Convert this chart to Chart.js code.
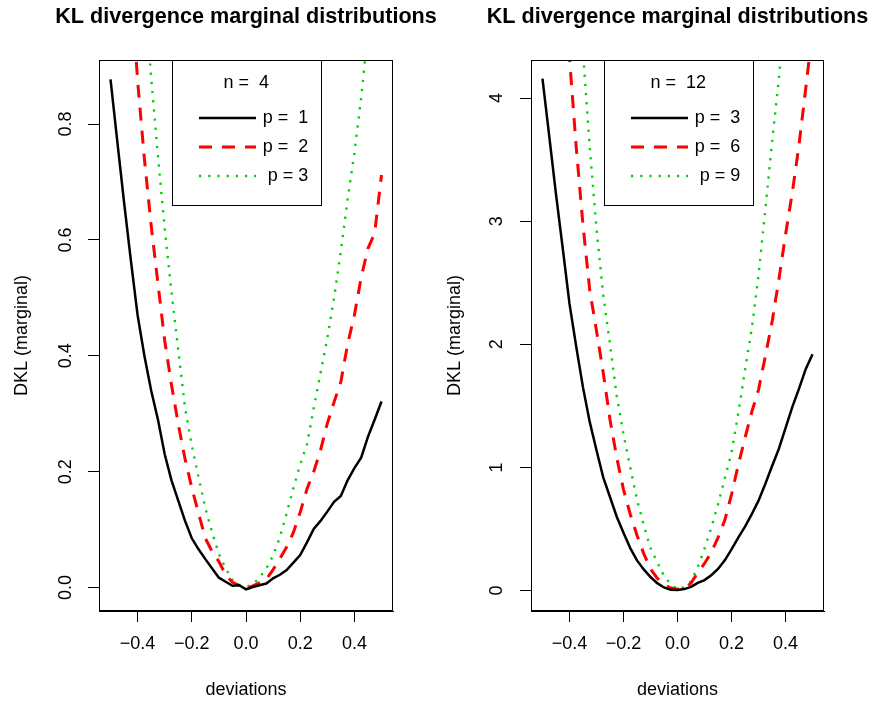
<!DOCTYPE html>
<html>
<head>
<meta charset="utf-8">
<title>KL divergence marginal distributions</title>
<script src="https://cdn.jsdelivr.net/npm/chart.js@4/dist/chart.umd.min.js"></script>
<style>
  html, body { margin: 0; padding: 0; background: #fff; }
  #wrap { position: relative; width: 872px; height: 705px; }
  canvas { position: absolute; top: 0; }
</style>
</head>
<body>
<div id="wrap">
  <canvas id="left" width="436" height="705" style="left:0"></canvas>
  <canvas id="right" width="436" height="705" style="left:436px"></canvas>
</div>
<script>
// deviations (x) shared by every curve
const deviations = [-0.5, -0.475, -0.45, -0.425, -0.4, -0.375, -0.35, -0.325, -0.3, -0.275,
  -0.25, -0.225, -0.2, -0.175, -0.15, -0.125, -0.1, -0.075, -0.05, -0.025,
  0, 0.025, 0.05, 0.075, 0.1, 0.125, 0.15, 0.175, 0.2, 0.225,
  0.25, 0.275, 0.3, 0.325, 0.35, 0.375, 0.4, 0.425, 0.45, 0.475, 0.5];

// left panel, n = 4
const n4p1 = [0.877, 0.77, 0.665, 0.565, 0.47, 0.40, 0.34, 0.29, 0.23, 0.185,
  0.15, 0.115, 0.085, 0.066, 0.049, 0.033, 0.017, 0.010, 0.003, 0.004,
  -0.003, 0.001, 0.004, 0.007, 0.016, 0.022, 0.030, 0.043, 0.056, 0.078,
  0.101, 0.115, 0.131, 0.148, 0.158, 0.185, 0.206, 0.224, 0.260, 0.290, 0.321];
const n4p2 = [1.7, 1.48, 1.25, 1.05, 0.875, 0.74, 0.625, 0.525, 0.426, 0.35,
  0.282, 0.222, 0.172, 0.128, 0.085, 0.062, 0.045, 0.022, 0.009, 0.004,
  -0.003, 0.003, 0.008, 0.014, 0.031, 0.050, 0.070, 0.095, 0.130, 0.170,
  0.200, 0.237, 0.283, 0.320, 0.355, 0.420, 0.470, 0.535, 0.585, 0.612, 0.712];
const n4p3 = [2.3, 2.0, 1.7, 1.45, 1.22, 1.04, 0.88, 0.745, 0.62, 0.51,
  0.41, 0.31, 0.245, 0.19, 0.137, 0.095, 0.058, 0.033, 0.013, 0.004,
  0.001, 0.005, 0.017, 0.033, 0.055, 0.087, 0.128, 0.172, 0.212, 0.247,
  0.31, 0.37, 0.43, 0.50, 0.58, 0.67, 0.75, 0.845, 0.96, 1.08, 1.2];

// right panel, n = 12
const n12p3 = [4.158, 3.69, 3.22, 2.78, 2.33, 1.98, 1.65, 1.37, 1.14, 0.92,
  0.76, 0.60, 0.47, 0.345, 0.245, 0.172, 0.11, 0.06, 0.025, 0.006,
  0.004, 0.012, 0.03, 0.062, 0.085, 0.125, 0.175, 0.245, 0.335, 0.43,
  0.52, 0.62, 0.73, 0.865, 1.01, 1.15, 1.32, 1.49, 1.64, 1.80, 1.92];
const n12p6 = [8.5, 7.3, 6.2, 5.25, 4.33, 3.60, 2.97, 2.44, 2.11, 1.77,
  1.39, 1.08, 0.82, 0.62, 0.45, 0.30, 0.175, 0.10, 0.05, 0.02,
  0.01, 0.018, 0.06, 0.145, 0.22, 0.31, 0.43, 0.57, 0.78, 1.02,
  1.24, 1.45, 1.63, 1.90, 2.18, 2.52, 2.89, 3.23, 3.62, 4.08, 4.55];
const n12p9 = [13, 11.2, 9.6, 8.1, 6.8, 5.6, 4.38, 3.60, 2.94, 2.40,
  2.00, 1.58, 1.27, 1.00, 0.74, 0.53, 0.345, 0.23, 0.12, 0.05,
  0.01, 0.03, 0.075, 0.19, 0.34, 0.51, 0.70, 0.91, 1.12, 1.44,
  1.79, 2.13, 2.56, 3.09, 3.64, 4.15, 4.75, 5.4, 6.1, 6.9, 7.7];

const leftLabels = ['p =  1', 'p =  2', ' p = 3'];
const rightLabels = ['p =  3', 'p =  6', ' p = 9'];

const xTicks = [-0.4, -0.2, 0, 0.2, 0.4];
const xTickLabels = ['\u22120.4', '\u22120.2', '0.0', '0.2', '0.4'];
const leftYTicks = [0, 0.2, 0.4, 0.6, 0.8];
const leftYTickLabels = ['0.0', '0.2', '0.4', '0.6', '0.8'];
const rightYTicks = [0, 1, 2, 3, 4];
const rightYTickLabels = ['0', '1', '2', '3', '4'];

const FONT = "'Liberation Sans', Arial, Helvetica, sans-serif";

const lineStyles = [
  { color: '#000000', width: 2.5, dash: [] },
  { color: '#ff0000', width: 3, dash: [13, 10] },
  { color: '#00cd00', width: 2.4, dash: [2.2, 7] }
];

// R-like frame: box, rotated y labels, titles and the legend box
const rFrame = {
  id: 'rFrame',
  afterDraw(chart, args, o) {
    const { ctx, chartArea: a } = chart;
    const yScale = chart.scales.y;
    const cx = (a.left + a.right) / 2;
    ctx.save();
    ctx.strokeStyle = '#000';
    ctx.lineWidth = 1;
    ctx.strokeRect(a.left + 0.5, a.top + 0.5, a.right - a.left - 1, a.bottom - a.top - 1);

    ctx.fillStyle = '#000';
    ctx.font = `18px ${FONT}`;
    ctx.textAlign = 'center';
    ctx.textBaseline = 'middle';
    o.yTicks.forEach((v, i) => {
      ctx.save();
      ctx.translate(o.yLabelX, yScale.getPixelForValue(v));
      ctx.rotate(-Math.PI / 2);
      ctx.fillText(o.yTickLabels[i], 0, 0);
      ctx.restore();
    });

    ctx.fillText('deviations', cx, 690);
    ctx.save();
    ctx.translate(o.yTitleX, (a.top + a.bottom) / 2);
    ctx.rotate(-Math.PI / 2);
    ctx.fillText('DKL (marginal)', 0, 0);
    ctx.restore();

    // legend
    const lx0 = a.left + 72.7, lx1 = a.left + 221.7;
    ctx.strokeRect(Math.round(lx0) + 0.5, a.top + 0.5, Math.round(lx1 - lx0), 145);
    ctx.fillText(o.header, (lx0 + lx1) / 2, 83);
    const rows = [118, 147, 176];
    chart.data.datasets.forEach((ds, i) => {
      ctx.save();
      ctx.strokeStyle = ds.borderColor;
      ctx.lineWidth = ds.borderWidth;
      ctx.setLineDash(ds.borderDash);
      ctx.beginPath();
      ctx.moveTo(a.left + 100, rows[i]);
      ctx.lineTo(a.left + 157, rows[i]);
      ctx.stroke();
      ctx.restore();
      ctx.textAlign = 'left';
      ctx.fillText(ds.label, a.left + 163.7, rows[i]);
    });

    ctx.textAlign = 'center';
    ctx.font = `bold 21.6px ${FONT}`;
    ctx.fillText('KL divergence marginal distributions', cx, 17);
    ctx.restore();
  }
};

function makePanel(id, p) {
  const axisGrid = { drawOnChartArea: false, drawTicks: true, tickLength: 11, color: '#000', lineWidth: 1 };
  return new Chart(document.getElementById(id), {
    type: 'line',
    data: {
      datasets: p.series.map((s, i) => ({
        label: p.labels[i],
        data: deviations.map((x, j) => ({ x: x, y: s[j] })),
        borderColor: lineStyles[i].color,
        borderWidth: lineStyles[i].width,
        borderDash: lineStyles[i].dash,
        pointRadius: 0,
        tension: 0,
        fill: false,
        clip: 0
      }))
    },
    options: {
      responsive: false,
      animation: false,
      events: [],
      layout: { padding: { top: 60, right: p.padRight, left: 0, bottom: 0 } },
      plugins: {
        legend: { display: false },
        tooltip: { enabled: false },
        title: { display: false },
        rFrame: {
          header: p.header,
          yTicks: p.yTicks,
          yTickLabels: p.yTickLabels,
          yLabelX: p.yLabelX,
          yTitleX: p.yTitleX
        }
      },
      scales: {
        x: {
          type: 'linear',
          min: -0.5425,
          max: 0.5425,
          afterBuildTicks: s => { s.ticks = xTicks.map(v => ({ value: v })); },
          afterFit: s => { s.height = 94; },
          grid: axisGrid,
          border: { display: true, color: '#000', width: 1 },
          ticks: {
            autoSkip: false,
            maxRotation: 0,
            padding: 11,
            color: '#000',
            font: { family: FONT, size: 18 },
            callback: (v, i) => xTickLabels[i]
          }
        },
        y: {
          type: 'linear',
          min: p.yMin,
          max: p.yMax,
          afterBuildTicks: s => { s.ticks = p.yTicks.map(v => ({ value: v })); },
          afterFit: s => { s.width = p.yWidth; },
          grid: axisGrid,
          border: { display: true, color: '#000', width: 1 },
          ticks: { display: false }
        }
      }
    },
    plugins: [rFrame]
  });
}

makePanel('left', {
  series: [n4p1, n4p2, n4p3],
  labels: leftLabels,
  header: 'n =  4',
  yMin: -0.0405, yMax: 0.9105,
  yTicks: leftYTicks, yTickLabels: leftYTickLabels,
  yWidth: 99, padRight: 43, yLabelX: 66, yTitleX: 22
});

makePanel('right', {
  series: [n12p3, n12p6, n12p9],
  labels: rightLabels,
  header: 'n =  12',
  yMin: -0.166, yMax: 4.309,
  yTicks: rightYTicks, yTickLabels: rightYTickLabels,
  yWidth: 95, padRight: 48, yLabelX: 61, yTitleX: 19
});
</script>
</body>
</html>
